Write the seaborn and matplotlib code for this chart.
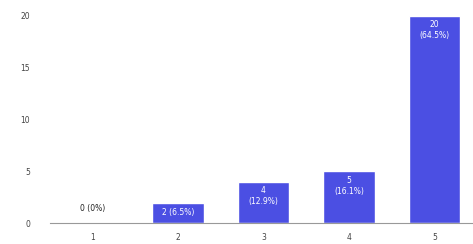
import matplotlib
matplotlib.use("Agg")
import matplotlib.pyplot as plt
import numpy as np
import pandas as pd
import seaborn as sns

ratings = ["1", "2", "3", "4", "5"]
counts = [0, 2, 4, 5, 20]
y_ticks = [0, 5, 10, 15, 20]

total = sum(counts)
df = pd.DataFrame({"rating": ratings, "count": counts})

sns.set_style("white")
fig, ax = plt.subplots(figsize=(4.73, 2.44), dpi=100)
fig.subplots_adjust(left=0.105, right=1.0, top=0.96, bottom=0.085)

sns.barplot(data=df, x="rating", y="count", color="#4b4fe3", width=0.6,
            saturation=1, ax=ax)

for i, c in enumerate(counts):
    pct = 100 * c / total
    pct_txt = f"{pct:.1f}%" if c else "0%"
    if c == 0:
        ax.text(i, 1.0, f"{c} ({pct_txt})", ha="center", va="bottom",
                fontsize=5.5, color="#222222")
    elif c < 3:
        ax.text(i, c / 2, f"{c} ({pct_txt})", ha="center", va="center",
                fontsize=5.5, color="white")
    else:
        ax.text(i, c - 0.4, f"{c}\n({pct_txt})", ha="center", va="top",
                fontsize=5.5, color="white", linespacing=1.3)

ax.set_ylim(0, 20.6)
ax.set_xlim(-0.5, 4.45)
ax.set_yticks(y_ticks)
ax.set_xlabel("")
ax.set_ylabel("")
ax.tick_params(axis="x", labelsize=5.5, colors="#444444", length=0, pad=7)
ax.tick_params(axis="y", labelsize=5.5, colors="#444444", length=0, pad=14)
for s in ["top", "right", "left"]:
    ax.spines[s].set_visible(False)
ax.spines["bottom"].set_color("#999999")
ax.spines["bottom"].set_linewidth(0.8)

plt.savefig("out.png", dpi=100)
